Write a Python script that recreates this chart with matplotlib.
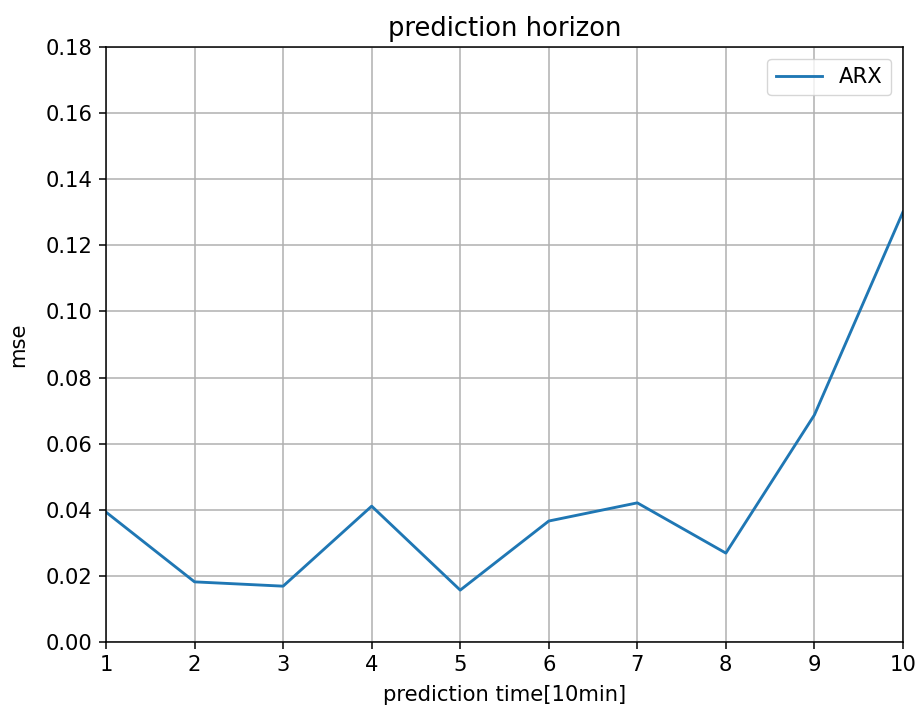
import matplotlib
matplotlib.use('Agg')
import matplotlib.pyplot as plt

# prediction horizon steps (x 10 min) and ARX mse
horizon = [1, 2, 3, 4, 5, 6, 7, 8, 9, 10]
mse_arx = [0.0393, 0.0182, 0.0169, 0.0411, 0.0157, 0.0366, 0.0421, 0.0269, 0.0687, 0.1301]
yticks = [0.00, 0.02, 0.04, 0.06, 0.08, 0.10, 0.12, 0.14, 0.16, 0.18]

S = 1.37  # scale of the original render
plt.rcParams['font.size'] = 15.2

fig = plt.figure(figsize=(9.17, 7.14), dpi=100)
ax = fig.add_axes([0.1156, 0.1008, 0.8691, 0.8334])
ax.plot(horizon, mse_arx, color='#1f77b4', lw=1.5 * S, label='ARX')
ax.set_xlim(1, 10)
ax.set_ylim(0, 0.18)
ax.set_xticks(horizon)
ax.set_yticks(yticks)
ax.set_yticklabels([f'{v:.2f}' for v in yticks])
ax.grid(True, color='#b0b0b0', lw=0.8 * S)
ax.tick_params(width=0.8 * S, length=3.5 * S, pad=3.5 * S)
for sp in ax.spines.values():
    sp.set_linewidth(0.8 * S)
ax.set_xlabel('prediction time[10min]', labelpad=5 * S)
ax.set_ylabel('mse', labelpad=9 * S)
ax.set_title('prediction horizon', fontsize=18.5, pad=6 * S)
ax.legend(loc='upper right', borderaxespad=0.5 * S * 0.8, handlelength=2.2)
fig.savefig('out.png', dpi=100)
